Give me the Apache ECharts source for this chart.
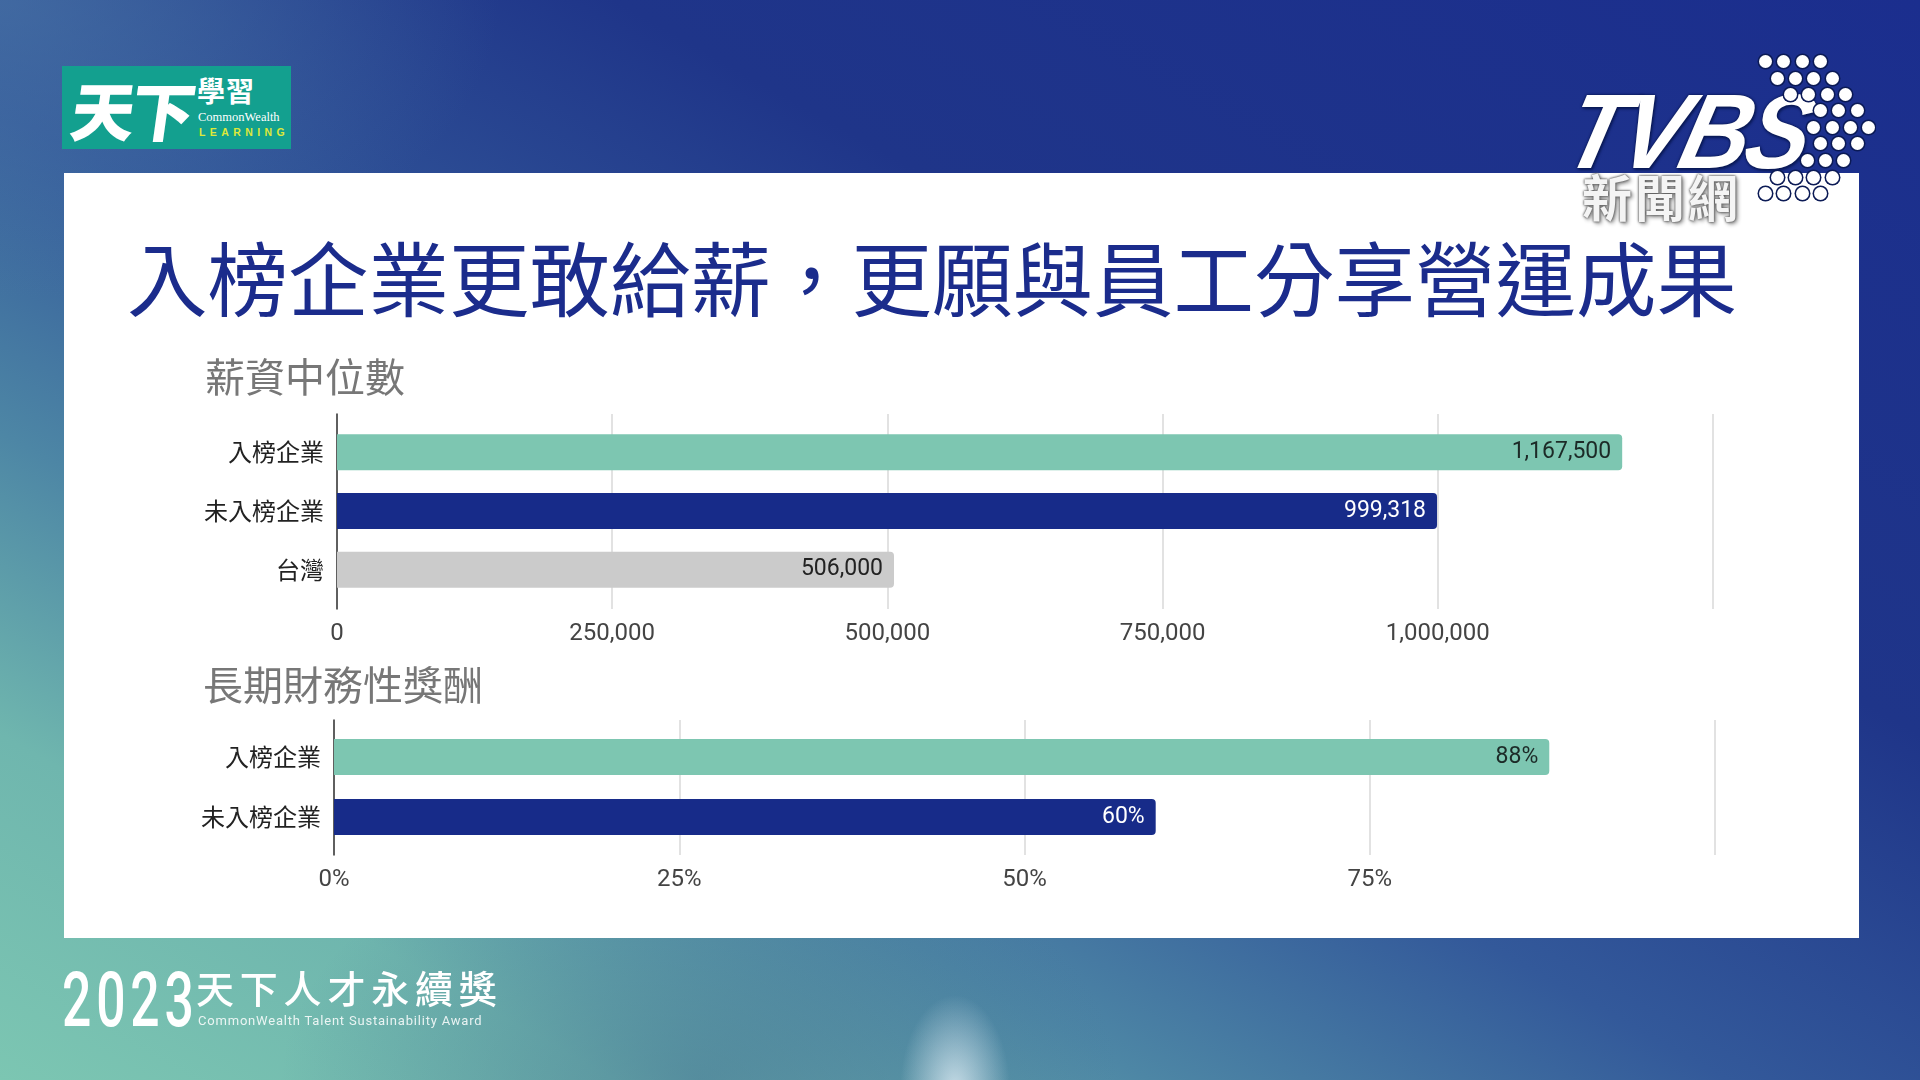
<!DOCTYPE html>
<html>
<head>
<meta charset="utf-8">
<script src="https://cdn.jsdelivr.net/npm/echarts@6/dist/echarts.min.js"></script>
<style>
html,body{margin:0;padding:0;width:1920px;height:1080px;overflow:hidden;}
#bg{position:absolute;left:0;top:0;width:1920px;height:1080px;
 background:
  radial-gradient(ellipse 55px 95px at 955px 1090px, rgba(225,238,246,0.8), rgba(225,238,246,0) 100%),
  radial-gradient(ellipse 500px 300px at 0px 0px, rgba(80,125,170,0.55), rgba(80,125,170,0) 100%),
  radial-gradient(ellipse 420px 260px at 700px 1080px, rgba(60,100,140,0.45), rgba(60,100,140,0) 100%),
  linear-gradient(to top right, #7cc6b2 0%, #6fb6ae 16%, #4d86a5 30%, #33599a 45%, #1f3589 66%, #1b2e8e 100%);
}
#panel{position:absolute;left:64px;top:173px;width:1795px;height:765px;background:#ffffff;}
#chart{position:absolute;left:0;top:0;width:1920px;height:1080px;}
#logo{position:absolute;left:62px;top:66px;width:229px;height:83px;background:#13a08f;overflow:hidden;}
#logo .tx{position:absolute;left:10px;top:2px;font-family:"Noto Sans CJK TC";font-weight:900;font-size:64px;line-height:80px;color:#fff;transform:skewX(-8deg);letter-spacing:-4px;}
#logo .xx{position:absolute;left:135px;top:8px;font-family:"Noto Sans CJK TC";font-weight:700;font-size:28px;line-height:32px;color:#fff;letter-spacing:1px;}
#logo .cw{position:absolute;left:136px;top:44px;font-family:"Liberation Serif";font-size:12.5px;line-height:14px;color:#fff;}
#logo .ln{position:absolute;left:137px;top:60px;font-family:"Liberation Sans";font-weight:700;font-size:10.5px;line-height:12px;color:#dfe83a;letter-spacing:4.4px;}
#tvbs{position:absolute;left:1556px;top:78px;font-family:"Liberation Sans";font-weight:700;font-style:italic;font-size:106px;line-height:106px;color:#fff;letter-spacing:-4px;transform:skewX(-14deg) scaleX(0.9);transform-origin:0 100%;
 text-shadow:0 0 2px #0b1a55,0 0 3px #0b1a55,2px 2px 3px #0b1a55;}
#news{position:absolute;left:1582px;top:165px;font-family:"Noto Sans CJK TC";font-weight:700;font-size:50px;line-height:60px;color:#f4f4f4;letter-spacing:3px;
 text-shadow:0 0 2px #555,0 0 3px #666,2px 2px 4px #888;}
.dot{position:absolute;width:13px;height:13px;border-radius:50%;background:#fff;box-shadow:0 0 0 1.5px #0b1a55;}
#y2023{position:absolute;left:62px;top:958px;font-family:Roboto;font-weight:500;font-size:76px;line-height:84px;color:#fff;letter-spacing:7px;transform:scaleX(0.68);transform-origin:0 0;}
#award{position:absolute;left:196px;top:964px;font-family:"Noto Sans CJK TC";font-weight:500;font-size:38px;line-height:46px;color:#fff;letter-spacing:5.8px;}
#awardEn{position:absolute;left:198px;top:1013px;font-family:Roboto;font-size:13px;line-height:16px;color:rgba(255,255,255,0.85);letter-spacing:0.8px;}
</style>
</head>
<body>
<div id="bg"></div>
<div id="panel"></div>
<div id="logo">
 <div class="tx">天下</div>
 <div class="xx">學習</div>
 <div class="cw">CommonWealth</div>
 <div class="ln">LEARNING</div>
</div>
<div id="chart"></div>
<div id="tvbs">TVBS</div>
<div id="news">新聞網</div>
<div id="dots"></div>
<div id="y2023">2023</div>
<div id="award">天下人才永續獎</div>
<div id="awardEn">CommonWealth Talent Sustainability Award</div>
<script>
// ---- data ----
const mainTitle = '入榜企業更敢給薪，更願與員工分享營運成果';
const salaryTitle = '薪資中位數';
const rewardTitle = '長期財務性獎酬';
const salaryCategories = ['入榜企業', '未入榜企業', '台灣'];
const salaryValues = [1167500, 999318, 506000];
const salaryAxis = {min: 0, max: 1250000, interval: 250000};
const rewardCategories = ['入榜企業', '未入榜企業'];
const rewardValues = [88, 59.5];
const rewardAxis = {min: 0, max: 100, interval: 25};

// ---- decorative TVBS dots ----
const dotRows = [
  [61, [1765, 1783, 1802, 1820]],
  [78, [1777, 1795, 1813, 1832]],
  [94, [1790, 1808, 1827, 1845]],
  [110, [1820, 1838, 1857]],
  [127, [1813, 1832, 1850, 1868]],
  [143, [1820, 1838, 1857]],
  [160, [1807, 1825, 1843]],
  [177, [1777, 1795, 1813, 1832]],
  [193, [1765, 1783, 1802, 1820]]
];
const dotsEl = document.getElementById('dots');
dotRows.forEach(function (r) {
  r[1].forEach(function (x) {
    const d = document.createElement('div');
    d.className = 'dot';
    d.style.left = (x - 6.5) + 'px';
    d.style.top = (r[0] - 6.5) + 'px';
    dotsEl.appendChild(d);
  });
});

// ---- styles ----
const TEAL = '#7dc6b1', NAVY = '#172b89', GRAY = '#cbcbcb';
const barColors = [TEAL, NAVY, GRAY];
const labelColors = ['#1c2a27', '#ffffff', '#222222'];
const fontCJK = '"Noto Sans CJK TC", "Noto Sans", sans-serif';
const fontNum = 'Roboto, "Noto Sans", sans-serif';

function fmtNum(v) { return Number(v).toLocaleString('en-US'); }
function fmtPct(v) { return Math.round(v) + '%'; }

function frameX(ax, grid, fmt) {
  return {
    type: 'value', gridIndex: grid, min: ax.min, max: ax.max, interval: ax.interval,
    axisLine: {show: false}, axisTick: {show: false},
    splitLine: {show: true, lineStyle: {color: '#d9d9d9', width: 1.5}},
    axisLabel: {show: true, fontFamily: fontNum, fontSize: 24, color: '#444', margin: 13,
      showMaxLabel: false, formatter: fmt}
  };
}
function hiddenX(ax, grid) {
  return {type: 'value', gridIndex: grid, min: ax.min, max: ax.max, interval: ax.interval, show: false};
}
function frameY(grid) {
  return {
    type: 'value', gridIndex: grid, min: 0, max: 1,
    axisLine: {show: true, onZero: false, lineStyle: {color: '#333', width: 1.5}},
    axisTick: {show: false}, axisLabel: {show: false}, splitLine: {show: false}
  };
}
function catY(cats, grid) {
  return {
    type: 'category', gridIndex: grid, data: cats, inverse: true,
    axisLine: {show: false}, axisTick: {show: false}, splitLine: {show: false},
    axisLabel: {fontFamily: fontCJK, fontSize: 24, color: '#222', margin: 13}
  };
}
function barSeries(vals, xi, yi, fmt) {
  return {
    type: 'bar', xAxisIndex: xi, yAxisIndex: yi, barWidth: 36,
    data: vals.map(function (v, i) {
      return {value: v, itemStyle: {color: barColors[i], borderRadius: [0, 4, 4, 0]},
        label: {color: labelColors[i]}};
    }),
    label: {show: true, position: 'insideRight', distance: 11, fontFamily: fontNum, fontSize: 23,
      formatter: function (p) { return fmt(p.value); }},
    silent: true, animation: false
  };
}

const chart = echarts.init(document.getElementById('chart'), null, {renderer: 'canvas'});
chart.setOption({
  backgroundColor: 'transparent',
  animation: false,
  grid: [
    {left: 337, top: 414, width: 1376, height: 195},
    {left: 337, top: 423, width: 1376, height: 176},
    {left: 334, top: 720, width: 1381, height: 135},
    {left: 334, top: 727, width: 1381, height: 120}
  ],
  xAxis: [
    frameX(salaryAxis, 0, fmtNum),
    hiddenX(salaryAxis, 1),
    frameX(rewardAxis, 2, fmtPct),
    hiddenX(rewardAxis, 3)
  ],
  yAxis: [
    frameY(0),
    catY(salaryCategories, 1),
    frameY(2),
    catY(rewardCategories, 3)
  ],
  series: [
    barSeries(salaryValues, 1, 1, fmtNum),
    barSeries(rewardValues, 3, 3, fmtPct)
  ],
  graphic: [
    {type: 'text', left: 127, top: 239, style: {text: mainTitle, fontFamily: fontCJK, fontSize: 80.5, fill: '#1b2c8c'}},
    {type: 'text', left: 205, top: 357, style: {text: salaryTitle, fontFamily: fontCJK, fontSize: 40, fill: '#777'}},
    {type: 'text', left: 203, top: 665, style: {text: rewardTitle, fontFamily: fontCJK, fontSize: 40, fill: '#777'}}
  ]
});
</script>
</body>
</html>
